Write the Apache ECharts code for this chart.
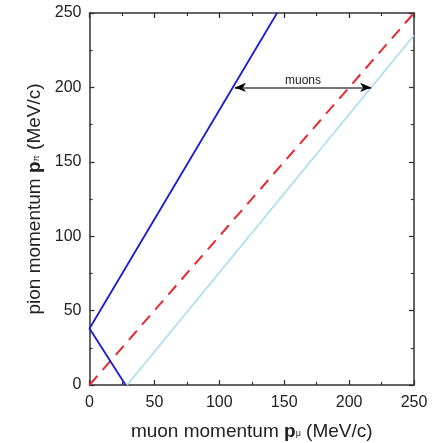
<!DOCTYPE html>
<html><head><meta charset="utf-8">
<script src="https://cdn.jsdelivr.net/npm/echarts@6/dist/echarts.min.js"></script>
<style>html,body{margin:0;padding:0;background:#fff}#c{width:447px;height:443px}</style>
</head><body><div id="c"></div>
<script>
// Data
const xTicks = [0, 50, 100, 150, 200, 250];
const yTicks = [0, 50, 100, 150, 200, 250];
const boundLowX = [27.8, 0, 144.5];   // muon momentum (dark blue)
const boundLowY = [0, 38, 250];       // pion momentum
const boundHighX = [29, 250];         // light blue
const boundHighY = [0, 235];
const diagX = [0, 250];               // red dashed
const diagY = [0, 250];
const arrowX = [112, 217];            // "muons" range at p_pi = 200
const arrowY = 200;
const arrowLabel = 'muons';

const pairs = (xs, ys) => xs.map((x, i) => [x, ys[i]]);
const chart = echarts.init(document.getElementById('c'));
const font = 'Liberation Sans, Arial';
const axisCommon = {
  type: 'value', min: xTicks[0], max: xTicks[xTicks.length - 1], interval: 50,
  axisLine: { show: true, onZero: false, lineStyle: { color: '#333', width: 1.5 } },
  axisTick: { show: true, inside: true, length: 5, lineStyle: { color: '#333', width: 1.3 } },
  minorTick: { show: true, splitNumber: 2, length: 3, lineStyle: { color: '#333', width: 1.2 } },
  splitLine: { show: false },
  axisLabel: { color: '#222', fontSize: 16, fontFamily: font }
};
const richName = {
  n: { fontSize: 19, color: '#222', fontFamily: font },
  b: { fontSize: 19, color: '#222', fontWeight: 'bold', fontFamily: font },
  s: { fontSize: 9, color: '#222', fontFamily: font, padding: [0, 0, -5, 0] }
};
chart.setOption({
  animation: false,
  grid: { left: 89.5, right: 33, top: 13, bottom: 58, containLabel: false, outerBoundsMode: 'none' },
  xAxis: [
    Object.assign({}, axisCommon, {
      position: 'bottom',
      axisLabel: Object.assign({}, axisCommon.axisLabel, { margin: 10 }),
      name: '{n|muon momentum }{b|p}{s|μ}{n| (MeV/c)}',
      nameLocation: 'middle', nameGap: 37,
      nameTextStyle: { rich: richName }
    }),
    Object.assign({}, axisCommon, { position: 'top', axisLabel: { show: false } })
  ],
  yAxis: [
    Object.assign({}, axisCommon, {
      min: yTicks[0], max: yTicks[yTicks.length - 1],
      position: 'left',
      axisLabel: Object.assign({}, axisCommon.axisLabel, { margin: 8 }),
      name: '{n|pion momentum }{b|p}{s|π}{n| (MeV/c)}',
      nameLocation: 'middle', nameGap: 33, nameRotate: 90,
      nameTextStyle: { rich: richName }
    }),
    Object.assign({}, axisCommon, { position: 'right', axisLabel: { show: false } })
  ],
  series: [
    {
      type: 'line', data: pairs(diagX, diagY), symbol: 'none',
      lineStyle: { color: '#e8262e', width: 2, type: [12, 8] }, z: 3
    },
    {
      type: 'line', data: pairs(boundHighX, boundHighY), symbol: 'none',
      lineStyle: { color: '#a9dcf3', width: 1.6 }, z: 2
    },
    {
      type: 'line', data: pairs(boundLowX, boundLowY), symbol: 'none',
      lineStyle: { color: '#1a1ad6', width: 1.8 }, z: 4,
      markLine: {
        silent: true, animation: false,
        data: [
          [ { coord: [arrowX[0], arrowY], symbol: 'arrow', symbolSize: [7, 11],
              lineStyle: { color: '#000', width: 1.5, type: 'solid' }, label: { show: false } },
            { coord: [arrowX[1], arrowY], symbol: 'arrow', symbolSize: [7, 11] } ],
          [ { coord: [arrowX[0] + 6, arrowY], symbol: 'none',
              lineStyle: { color: '#8a8a8a', width: 1.5, type: 'solid' },
              label: { show: true, position: 'middle', formatter: arrowLabel, color: '#222', fontSize: 12, fontFamily: font, distance: 1 } },
            { coord: [arrowX[1] - 6, arrowY], symbol: 'none' } ]
        ]
      }
    }
  ]
});
</script></body></html>
